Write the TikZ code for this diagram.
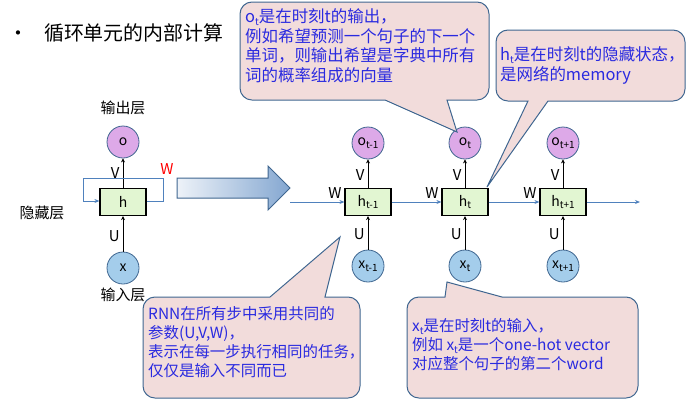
\documentclass[tikz,border=0pt]{standalone}
\usepackage{fontspec}
\setmainfont{Noto Sans CJK SC}
\usetikzlibrary{arrows.meta,shapes.geometric}
\definecolor{cpink}{HTML}{F2DCDB}
\definecolor{cbord}{HTML}{3F6690}
\definecolor{ctxt}{HTML}{2A2AE0}
\definecolor{cline}{HTML}{4F81BD}
\definecolor{opink}{HTML}{DDA9E8}
\definecolor{xblue}{HTML}{A4CDEB}
\definecolor{hgreen}{HTML}{E2F6D2}
\newcommand{\sbs}[1]{\raisebox{-0.35ex}{\fontsize{10}{10}\selectfont #1}}
\begin{document}
\begin{tikzpicture}[x=1bp,y=-1bp,
  circ/.style={circle,draw=cbord,line width=0.8pt,minimum size=32bp,inner sep=0pt,font=\fontsize{14}{14}\selectfont},
  onode/.style={circ,fill=opink},
  xnode/.style={circ,fill=xblue},
  hnode/.style={rectangle,draw=black,line width=1.2pt,fill=hgreen,minimum width=46bp,minimum height=27bp,inner sep=0pt,font=\fontsize{14}{14}\selectfont},
  lbl/.style={font=\fontsize{15}{15}\selectfont,inner sep=0pt},
  call/.style={fill=cpink,draw=cbord,line width=1pt},
  ctext/.style={text=ctxt,align=left,anchor=north west,inner sep=0pt},
  ctop/.style={ctext,font=\fontsize{16.5}{20}\selectfont},
  cbot/.style={ctext,font=\fontsize{15.5}{19}\selectfont},
  blk/.style={-{Stealth[length=4pt,width=4pt]},black,line width=0.9pt},
  blu/.style={-{Stealth[length=5pt,width=4pt]},cline,line width=1pt}]
\useasboundingbox (0,0) rectangle (686,405);
% title
\node[anchor=west,font=\fontsize{20}{20}\selectfont,inner sep=0pt] (title) at (8,33) {•\hspace{16bp}循环单元的内部计算};
% left folded
\node[onode] (o) at (123,142) {o};
\node[hnode] (h) at (123,202) {h};
\node[xnode] (x) at (123,268) {x};
\node[lbl] (lout) at (123,108) {输出层};
\node[lbl] (lhid) at (42,213) {隐藏层};
\node[lbl] (lin) at (123,295) {输入层};
\draw[blk] (h) -- node[lbl,left=3bp,pos=0.5] (lv) {V} (o);
\draw[blk] (x) -- node[lbl,left=3bp,pos=0.45] (lu) {U} (h);
\draw[blu] (h.east |- 0,201) -- (163,201) -- (163,178) -- (83,178) -- (83,201) -- (h.west |- 0,201);
\node[lbl,text=red] (lw) at (167,169) {W};
% big arrow
\shade[left color=white!90!cline,right color=cline!70!white,draw=cbord,line width=1pt]
 (177,178) -- (268,178) -- (268,166) -- (290,188) -- (268,210) -- (268,198) -- (177,198) -- cycle;
% unrolled
\coordinate (start) at (290,202);
\coordinate (end) at (640,202);
\foreach \n/\cx/\s in {a/368/t-1,b/465/t,c/563/t+1}{
  \node[onode] (o\n) at (\cx,143) {o\sbs{\s}};
  \node[hnode] (h\n) at (\cx,202) {h\sbs{\s}};
  \node[xnode] (x\n) at (\cx,266) {x\sbs{\s}};
  \draw[blk] (h\n) -- node[lbl,left=3bp,pos=0.45] (v\n) {V} (o\n);
  \draw[blk] (x\n) -- node[lbl,left=3bp,pos=0.45] (u\n) {U} (h\n);
  \node[lbl] (w\n) at (\cx-33,193) {W};
}
\draw[blu] (start) -- (ha);
\draw[blu] (ha) -- (hb);
\draw[blu] (hb) -- (hc);
\draw[blu] (hc) -- (end);
% callouts
\draw[call] (385,100) -- (457,132) -- (447,100) [rounded corners=12] -- (489,100) -- (489,2) -- (240,2) -- (240,100) [sharp corners] -- (385,100) -- cycle;
\node[ctop] (c1) at (245,8) {o\sbs{t}是在时刻t的输出，\\例如希望预测一个句子的下一个\\单词，则输出希望是字典中所有\\词的概率组成的向量};
\draw[call] (528,101) -- (487,187) -- (548,101) [rounded corners=12] -- (685,101) -- (685,30) -- (496,30) -- (496,101) [sharp corners] -- (528,101) -- cycle;
\node[ctop] (c2) at (500,46) {h\sbs{t}是在时刻t的隐藏状态，\\是网络的memory};
\draw[call] (270,297) -- (340,237) -- (325,297) [rounded corners=12] -- (360,297) -- (360,398) -- (143,398) -- (143,297) [sharp corners] -- (270,297) -- cycle;
\node[cbot] (c3) at (148,306) {RNN在所有步中采用共同的\\参数(U,V,W)，\\表示在每一步执行相同的任务，\\仅仅是输入不同而已};
\draw[call] (445,297) -- (447,282) -- (502,297) [rounded corners=12] -- (638,297) -- (638,398) -- (407,398) -- (407,297) [sharp corners] -- (445,297) -- cycle;
\node[cbot] (c4) at (412,318) {x\sbs{t}是在时刻t的输入，\\例如 x\sbs{t}是一个one-hot vector\\对应整个句子的第二个word};
\end{tikzpicture}
\end{document}
